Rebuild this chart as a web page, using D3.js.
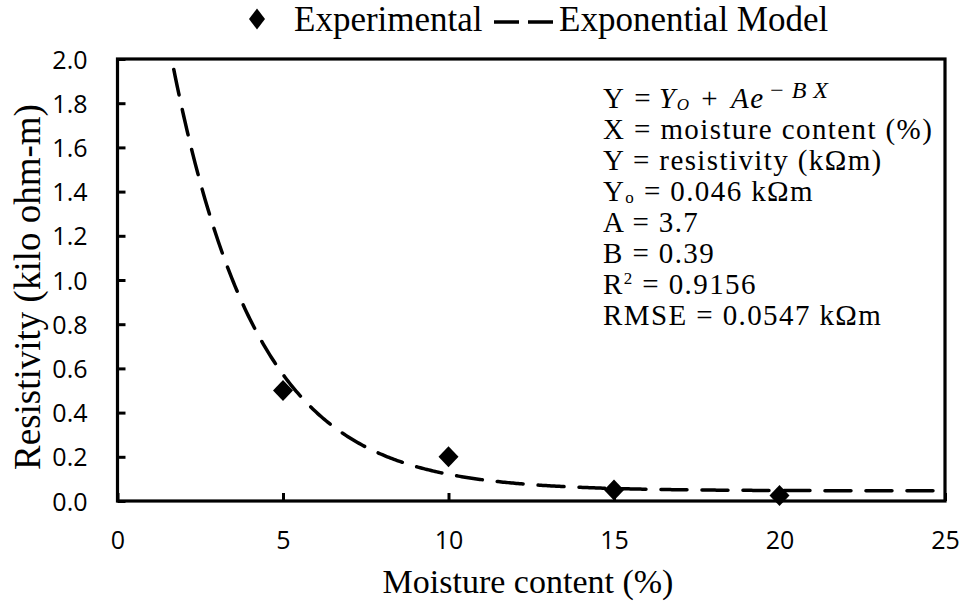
<!DOCTYPE html>
<html>
<head>
<meta charset="utf-8">
<script src="https://cdn.jsdelivr.net/npm/d3@7/dist/d3.min.js"></script>
<style>
  body { margin: 0; background: #fff; }
  .serif { font-family: "Liberation Serif", "Times New Roman", serif; fill: #000; }
  .tick-label { font-family: "Open Sans", "Liberation Sans", sans-serif; fill: #000; }
</style>
</head>
<body>
<svg id="chart" width="965" height="603"></svg>
<script>
// Axis ticks
const xTickValues = [0, 5, 10, 15, 20, 25];
const yTickValues = [0, 0.2, 0.4, 0.6, 0.8, 1.0, 1.2, 1.4, 1.6, 1.8, 2.0];

// Measured resistivity vs moisture content
const moisture = [5, 10, 15, 20];
const resistivity = [0.5, 0.2, 0.05, 0.025];

// Fitted exponential model  Y = Y0 + A e^(-B X)
const modelY0 = 0.046;
const modelA = 3.7;
const modelB = 0.39;
const modelR2 = 0.9156;
const modelRMSE = 0.0547;
const modelXRange = [1.7, 25];

const seriesNames = ["Experimental", "Exponential Model"];
const xTitle = "Moisture content (%)";
const yTitle = "Resistivity  (kilo ohm-m)";

const W = 965, H = 603;
const plot = { left: 117.5, right: 945, top: 59, bottom: 501 };

const svg = d3.select("#chart");
svg.append("rect").attr("width", W).attr("height", H).attr("fill", "#fff");

const x = d3.scaleLinear().domain([0, 25]).range([plot.left, plot.right]);
const y = d3.scaleLinear().domain([0, 2]).range([plot.bottom, plot.top]);

// Clip for the model curve
svg.append("clipPath").attr("id", "plot-clip")
  .append("rect")
  .attr("x", plot.left).attr("y", plot.top)
  .attr("width", plot.right - plot.left).attr("height", plot.bottom - plot.top);

// Y axis (ticks point inward)
const yAxis = svg.append("g")
  .attr("transform", `translate(${plot.left},0)`)
  .call(d3.axisLeft(y).tickValues(yTickValues).tickSize(-8).tickPadding(30)
        .tickFormat(d3.format(".1f")));
yAxis.select(".domain").remove();
yAxis.selectAll(".tick line").attr("stroke", "#000").attr("stroke-width", 3);
yAxis.selectAll(".tick text").attr("class", "tick-label").attr("font-size", 25)
  .attr("dy", "0.36em");

// X axis (ticks point inward)
const xAxis = svg.append("g")
  .attr("transform", `translate(0,${plot.bottom})`)
  .call(d3.axisBottom(x).tickValues(xTickValues).tickSize(-8).tickPadding(0)
        .tickFormat(d3.format("d")));
xAxis.select(".domain").remove();
xAxis.selectAll(".tick line").attr("stroke", "#000").attr("stroke-width", 3);
xAxis.selectAll(".tick text").attr("class", "tick-label").attr("font-size", 25)
  .attr("y", 39).attr("dy", "0.36em");

// Plot frame
svg.append("rect")
  .attr("x", plot.left).attr("y", plot.top)
  .attr("width", plot.right - plot.left).attr("height", plot.bottom - plot.top)
  .attr("fill", "none").attr("stroke", "#000").attr("stroke-width", 3.2);

// Model curve
const modelX = d3.range(modelXRange[0], modelXRange[1] + 0.001, 0.05);
const modelPts = modelX.map(v => [v, modelY0 + modelA * Math.exp(-modelB * v)]);
svg.append("path")
  .datum(modelPts)
  .attr("clip-path", "url(#plot-clip)")
  .attr("fill", "none").attr("stroke", "#000")
  .attr("stroke-width", 3.5).attr("stroke-linecap", "round")
  .attr("stroke-dasharray", "26,15")
  .attr("d", d3.line().x(d => x(d[0])).y(d => y(d[1])));

// Diamond markers
const diamond = (rx, ry) => `M0,${-ry}L${rx},0L0,${ry}L${-rx},0Z`;
svg.append("g").selectAll("path")
  .data(moisture.map((m, i) => [m, resistivity[i]]))
  .join("path")
  .attr("transform", d => `translate(${x(d[0])},${y(d[1])})`)
  .attr("d", diamond(10, 10.5))
  .attr("fill", "#000");

// Legend
const legend = svg.append("g");
legend.append("path").attr("transform", "translate(257,19)").attr("d", diamond(8, 10.5)).attr("fill", "#000");
legend.append("text").attr("class", "serif").attr("x", 294).attr("y", 31)
  .attr("font-size", 35).text(seriesNames[0]);
legend.append("path").attr("d", "M494,22H556")
  .attr("stroke", "#000").attr("stroke-width", 3.5).attr("stroke-dasharray", "25,9");
legend.append("text").attr("class", "serif").attr("x", 559).attr("y", 31)
  .attr("font-size", 35).text(seriesNames[1]);

// Axis titles
svg.append("text").attr("class", "serif").attr("font-size", 34)
  .attr("text-anchor", "middle").attr("x", 528).attr("y", 593).text(xTitle);
svg.append("text").attr("class", "serif").attr("font-size", 37)
  .attr("text-anchor", "middle")
  .attr("transform", "translate(40,287) rotate(-90)").text(yTitle);

// Model annotation: each segment is [text, style, extra dx]
const noteLines = [
  [["Y", "", 0], ["=", "", 9], ["Y", "i", 7], ["O", "isub", 0], ["+", "", 11], ["Ae", "i", 12], ["\u2212BX", "isup", 4]],
  [["X = moisture content (%)", "", 0]],
  [["Y = resistivity (k\u03A9m)", "", 0]],
  [["Y", "", 0], ["o", "sub", 0], [` = ${modelY0} k\u03A9m`, "", 0]],
  [[`A = ${modelA}`, "", 0]],
  [[`B = ${modelB}`, "", 0]],
  [["R", "", 0], ["2", "sup", 0], [` = ${modelR2}`, "", 0]],
  [[`RMSE = ${modelRMSE} k\u03A9m`, "", 0]]
];
const note = svg.append("text").attr("class", "serif")
  .attr("font-size", 29).attr("letter-spacing", 1.4);
noteLines.forEach((segs, li) => {
  let shift = 0;
  segs.forEach((s, si) => {
    const [t, style, gap] = s;
    const ts = note.append("tspan").text(t);
    if (si === 0) ts.attr("x", 603).attr("y", 108 + li * 31);
    else if (gap) ts.attr("dx", gap);
    let target = 0;
    if (style.includes("sub")) target = 2;
    if (style.includes("sup")) target = -10;
    ts.attr("dy", target - shift);
    shift = target;
    if (style.includes("i")) ts.attr("font-style", "italic");
    if (style.includes("sub") || style.includes("sup")) ts.attr("font-size", 17);
    if (style === "isup") ts.attr("font-size", 24).attr("letter-spacing", 7);
  });
});
</script>
</body>
</html>
